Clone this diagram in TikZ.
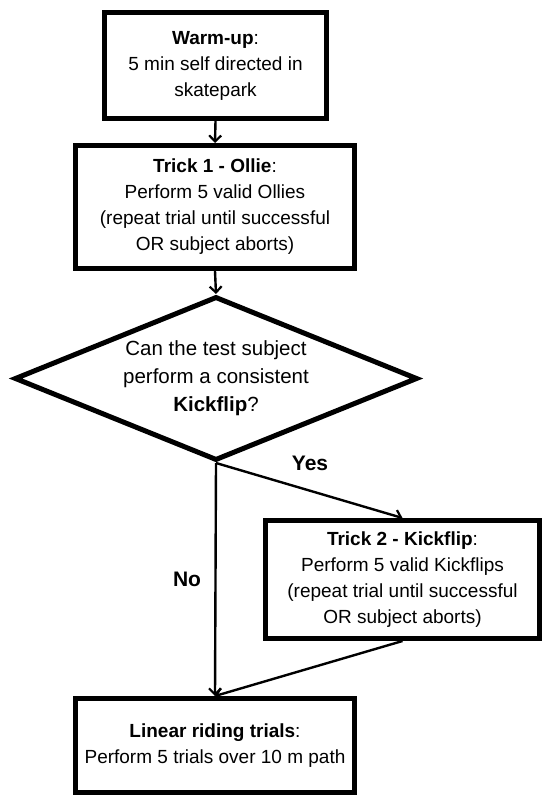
\documentclass[tikz,border=0pt]{standalone}
\usepackage{fontspec}
\setmainfont{Liberation Sans}
\usetikzlibrary{shapes.geometric,arrows.meta}
\begin{document}
\begin{tikzpicture}[x=1pt,y=1pt,
  box/.style={draw=black, line width=5pt, rectangle, inner sep=0pt, align=center,
    font=\fontsize{19}{26}\selectfont},
  qtext/.style={align=center, inner sep=0pt, font=\fontsize{20.5}{28}\selectfont},
  conn/.style={line width=2.4pt, -{Straight Barb[length=6pt,width=12pt,line width=2.2pt]}},
  lab/.style={font=\fontsize{21}{24}\selectfont\bfseries, inner sep=0pt}]
\useasboundingbox (0,0) rectangle (550,-805);
\node[box, minimum width=222pt, minimum height=106pt] (w) at (215.5,-65.5)
  {\textbf{Warm-up}:\\5 min self directed in\\skatepark};
\node[box, minimum width=279pt, minimum height=123pt] (t1) at (215,-207)
  {\textbf{Trick 1 - Ollie}:\\Perform 5 valid Ollies\\(repeat trial until successful\\OR subject aborts)};
\node[diamond, draw=black, line width=5pt, minimum width=403pt, minimum height=164pt, inner sep=0pt] (q) at (216,-378.5) {};
\node[qtext] (qt) at (q.center) {Can the test subject\\perform a consistent\\\textbf{Kickflip}?};
\node[box, minimum width=274pt, minimum height=118pt] (t2) at (402.5,-579.5)
  {\textbf{Trick 2 - Kickflip}:\\Perform 5 valid Kickflips\\(repeat trial until successful\\OR subject aborts)};
\node[box, minimum width=279pt, minimum height=94pt] (lin) at (215,-745.5)
  {\textbf{Linear riding trials}:\\Perform 5 trials over 10 m path};
\draw[conn] (w.south) -- (t1.north);
\draw[conn] (t1.south) -- (q.north);
\draw[conn] (q.south) -- (t2.north);
\draw[conn] (q.south) -- (lin.north);
\draw[conn] (t2.south) -- (lin.north);
\node[lab] (yes) at (310,-463) {Yes};
\node[lab] (no) at (187,-579) {No};
\end{tikzpicture}
\end{document}
